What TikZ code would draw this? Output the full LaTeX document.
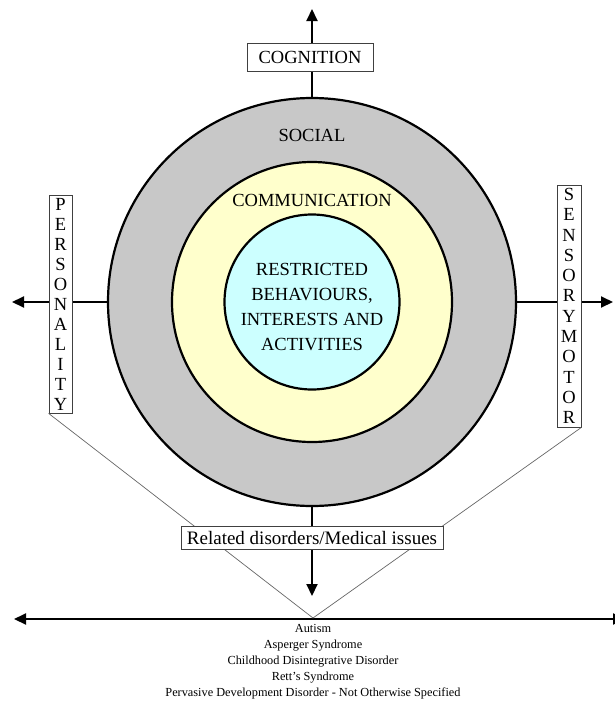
\documentclass[tikz,border=0pt]{standalone}
\usepackage{fontspec}
\setmainfont{Liberation Serif}
\usetikzlibrary{arrows.meta}
\definecolor{socialgray}{RGB}{200,200,200}
\definecolor{commyellow}{RGB}{255,255,204}
\definecolor{rrbcyan}{RGB}{204,255,255}
\begin{document}
\begin{tikzpicture}[x=1pt,y=-1pt,
  ring/.style={circle,draw=black,line width=2.2pt,inner sep=0pt},
  labelbox/.style={draw=black!75,fill=white,line width=0.8pt,inner sep=0pt},
  bigtext/.style={font=\fontsize{18.5}{20}\selectfont},
  axis/.style={line width=2pt,-{Triangle[length=12pt,width=11pt]}},
  thinline/.style={draw=black!60,line width=0.7pt}
]
\clip (0,0) rectangle (615,702);

% concentric domains
\node[ring,fill=socialgray,minimum size=408pt] (social) at (312,302) {};
\node[ring,fill=commyellow,minimum size=280pt] (comm) at (312,302) {};
\node[ring,fill=rrbcyan,minimum size=175pt] (rrb) at (312,302) {};

\node[bigtext] (sociallabel) at (312,135) {SOCIAL};
\node[bigtext] (commlabel) at (312,200) {COMMUNICATION};
\node[font=\fontsize{18.5}{25}\selectfont,align=center] (rrblabel) at (312,307)
  {RESTRICTED\\BEHAVIOURS,\\INTERESTS AND\\ACTIVITIES};

% arrow tips and the spectrum line
\coordinate (cogtip) at (312,9);
\coordinate (pertip) at (12,302);
\coordinate (sentip) at (613,302);
\coordinate (reltip) at (312,596);
\coordinate (apex) at (313,618);
\coordinate (leftend) at (14,619);
\coordinate (rightend) at (625,619);

\draw[axis] (social.north) -- (cogtip);
\draw[axis] (social.west) -- (pertip);
\draw[axis] (social.east) -- (sentip);
\draw[axis] (social.south) -- (reltip);
\draw[line width=2pt,{Triangle[length=12pt,width=11pt]}-{Triangle[length=12pt,width=11pt]}]
  (leftend) -- (rightend);

% side boxes
\node[labelbox,bigtext,minimum width=126pt,minimum height=28pt] (cognition) at (310,57) {COGNITION};
\node[labelbox,bigtext,align=center,minimum width=23pt,minimum height=218pt] (personality) at (60.5,304)
  {P\\E\\R\\S\\O\\N\\A\\L\\I\\T\\Y};
\node[labelbox,font=\fontsize{18.5}{20.3}\selectfont,align=center,minimum width=24pt,minimum height=242pt] (sensory) at (569,306)
  {S\\E\\N\\S\\O\\R\\Y\\M\\O\\T\\O\\R};

\draw[thinline] (personality.south west) -- (apex) -- (sensory.south east);

\node[labelbox,font=\fontsize{19}{22}\selectfont,minimum width=262pt,minimum height=23pt] (related) at (312,537.5)
  {Related disorders/Medical issues};

\node[font=\fontsize{12.3}{16}\selectfont,align=center,anchor=north] (disorders) at (313,621)
  {Autism\\Asperger Syndrome\\Childhood Disintegrative Disorder\\Rett’s Syndrome\\Pervasive Development Disorder - Not Otherwise Specified};
\end{tikzpicture}
\end{document}
